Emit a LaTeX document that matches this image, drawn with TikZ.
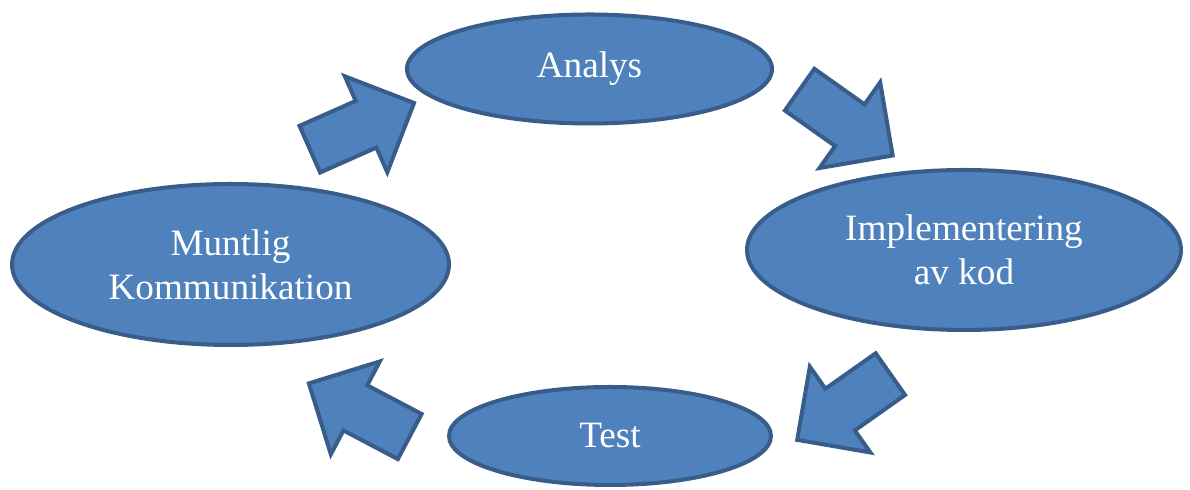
\documentclass[tikz,border=0pt]{standalone}
\usepackage{fontspec}
\setmainfont{Liberation Serif}
\usetikzlibrary{shapes.geometric,shapes.arrows}
\definecolor{boxblue}{HTML}{4F81BD}
\definecolor{boxedge}{HTML}{385D8A}

\begin{document}
\begin{tikzpicture}[x=0.5pt, y=0.5pt,
	phase/.style={ellipse, draw=boxedge, fill=boxblue, line width=2pt, inner sep=0pt,
		text=white, align=center, font=\fontsize{18.6}{22}\selectfont},
	blockarrow/.style={single arrow, draw=boxedge, fill=boxblue, line width=2pt,
		inner xsep=0pt, inner ysep=11.75pt, minimum height=57pt,
		single arrow head extend=13.5pt, anchor=tail}]
	\useasboundingbox (0,0) rectangle (1190,490);
	\node[phase, minimum width=182.5pt, minimum height=54.5pt] (analys) at (589.5,421) {Analys};
	\node[phase, minimum width=217pt, minimum height=80pt] (impl) at (964,240) {Implementering\\av kod};
	\node[phase, minimum width=161pt, minimum height=49pt] (test) at (610,54) {Test};
	\node[phase, minimum width=218.5pt, minimum height=80.5pt] (muntlig) at (230.5,225.5) {Muntlig\\Kommunikation};
	\node[blockarrow, rotate=23.9] (m2a) at (308,340) {};
	\node[blockarrow, rotate=-35.3] (a2i) at (798,401.5) {};
	\node[blockarrow, rotate=215.2] (i2t) at (892,117) {};
	\node[blockarrow, rotate=152.2] (t2m) at (411.5,52.5) {};
\end{tikzpicture}
\end{document}
